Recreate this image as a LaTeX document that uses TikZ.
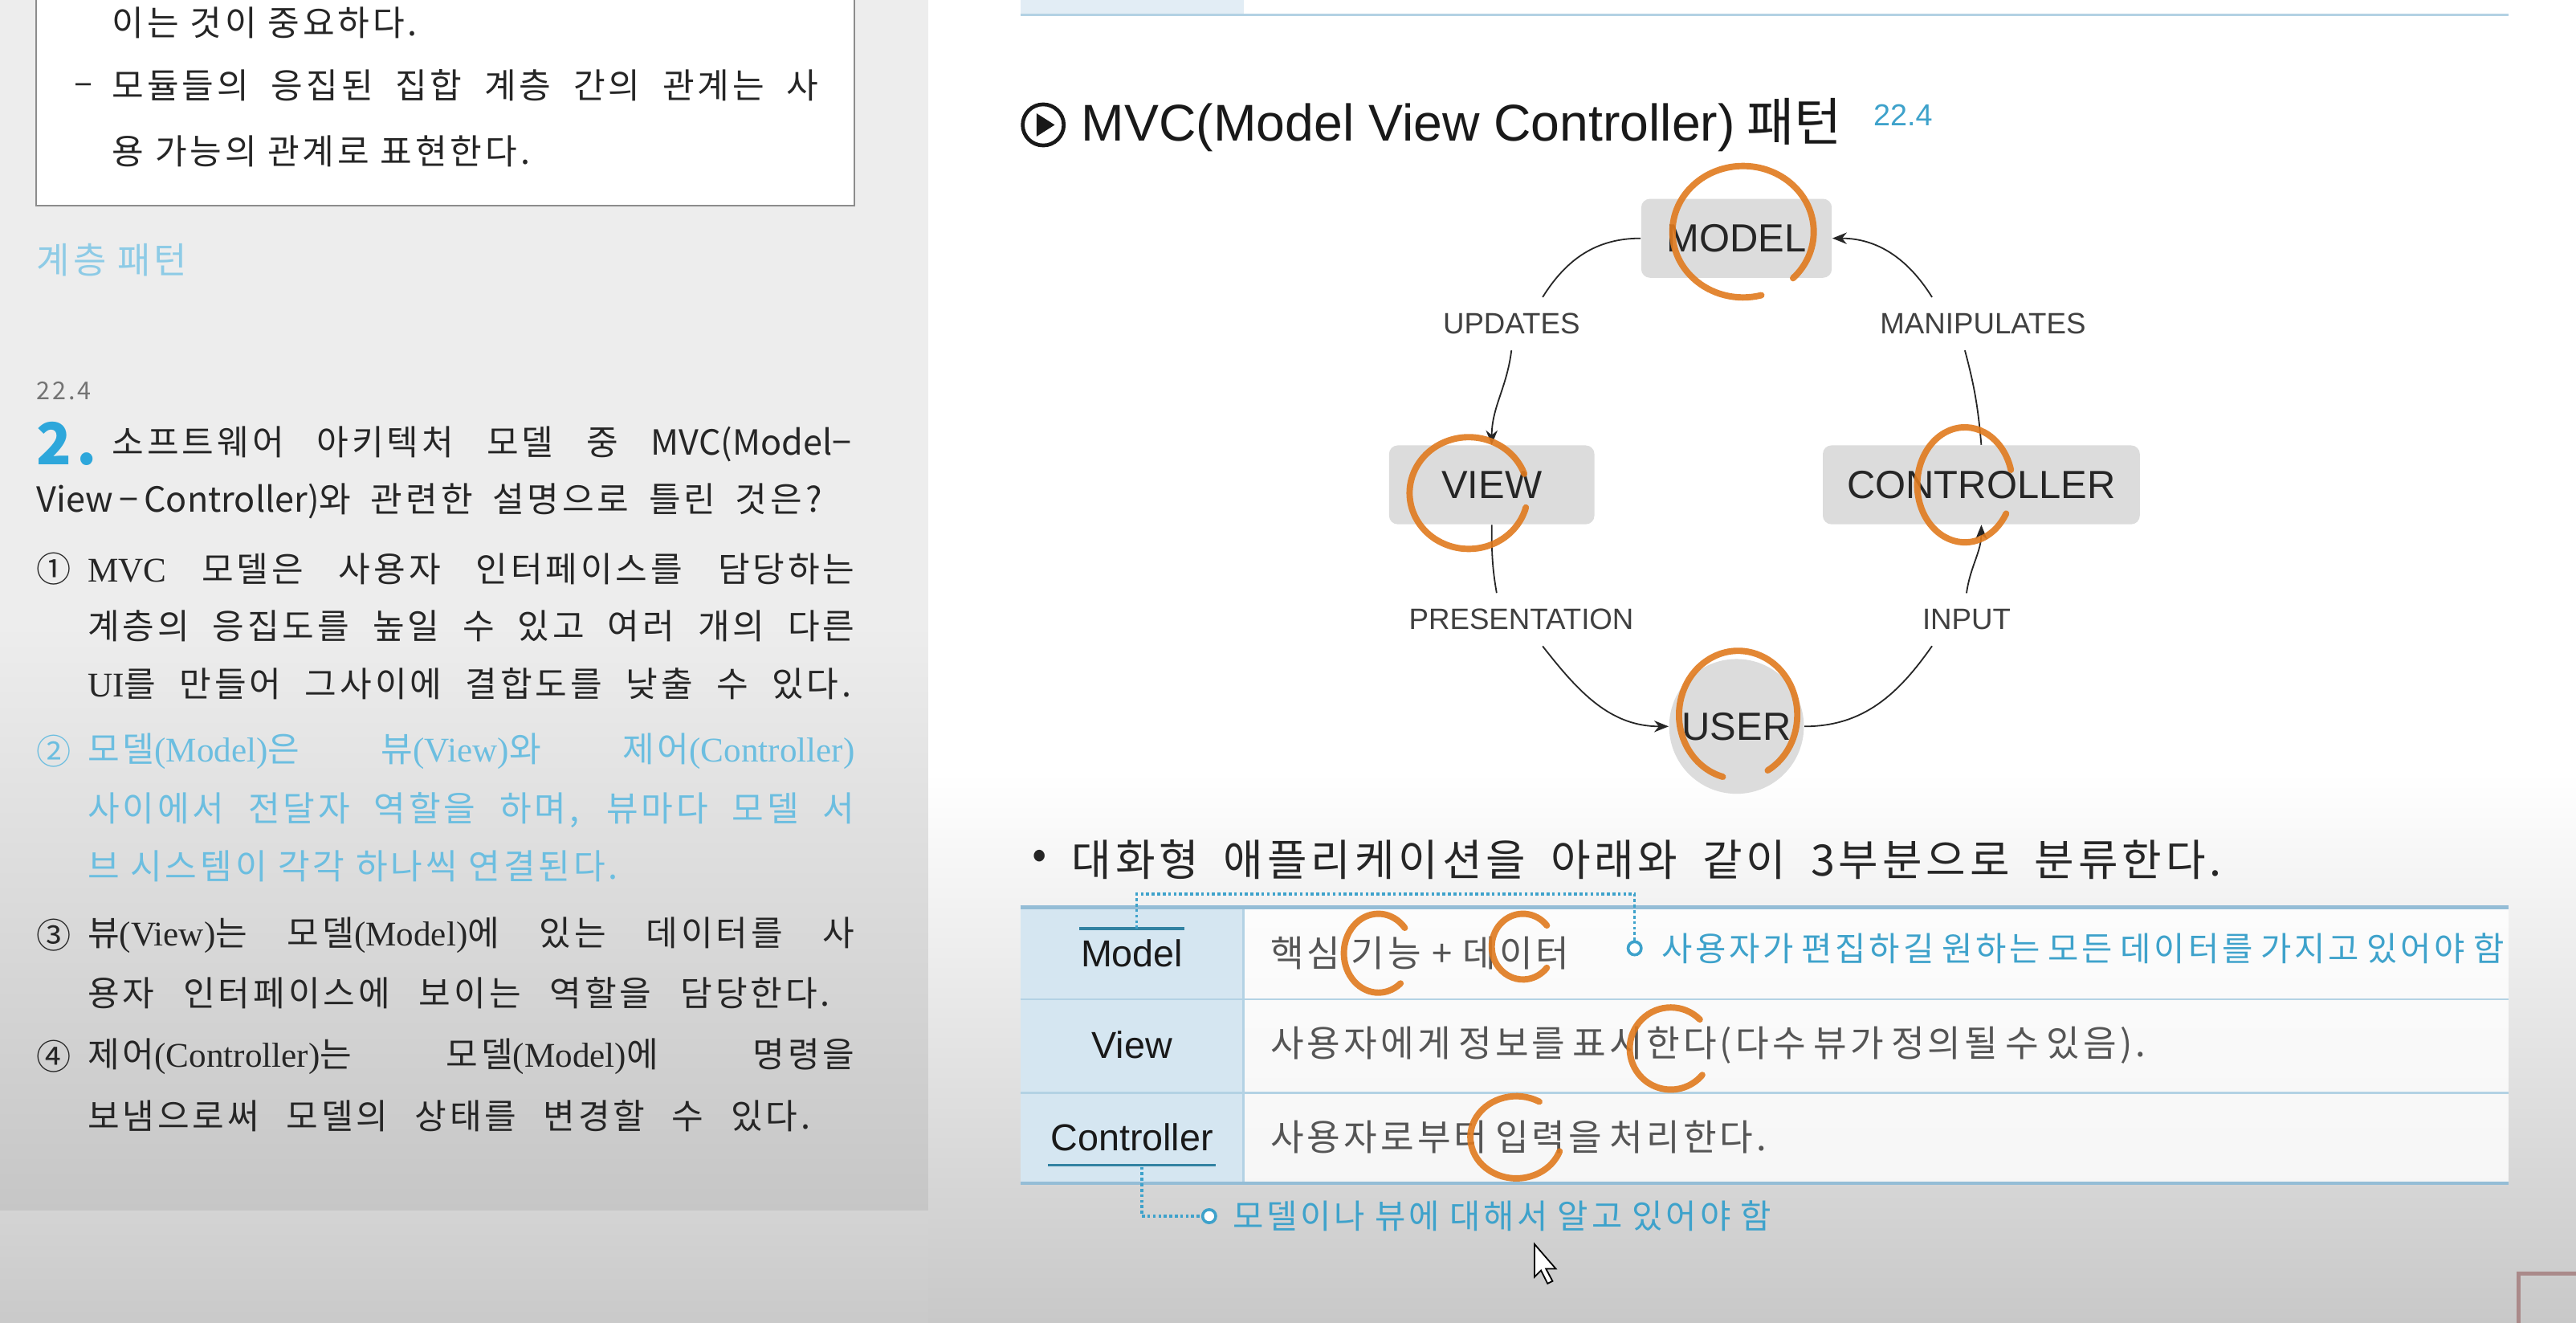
\documentclass[tikz,border=0pt]{standalone}
\usepackage{fontspec}
\setmainfont{Noto Sans CJK KR}[LetterSpace=9]
\newfontfamily\plainkr{Noto Sans CJK KR}
\newfontfamily\latserif{Liberation Serif}
\newfontfamily\hv{Liberation Sans}
\usetikzlibrary{positioning, arrows.meta, calc}

\definecolor{panelgray}{HTML}{EDEDED}
\definecolor{panelbottom}{HTML}{C6C6C6}
\definecolor{vignette}{HTML}{C8C8C8}
\definecolor{hintblue}{HTML}{8DCBE6}
\definecolor{qblue}{HTML}{2EA7DB}
\definecolor{ansblue}{HTML}{6CBEE0}
\definecolor{noteblue}{HTML}{3EA2CB}
\definecolor{cellblue}{HTML}{D5E6F1}
\definecolor{rulelight}{HTML}{B3D2E4}
\definecolor{ruledark}{HTML}{94BDD6}
\definecolor{boxgray}{HTML}{DCDCDC}
\definecolor{penorange}{HTML}{E07A1E}
\definecolor{bodygray}{HTML}{555555}
\definecolor{framerose}{HTML}{AA8A8A}

\newcommand{\jline}[2]{\makebox[#1][s]{#2}}

\begin{document}
\begin{tikzpicture}[
    x=0.02cm, y=-0.02cm,
    >={Stealth[length=5pt, width=4pt]},
    lefttxt/.style={anchor=west, inner sep=0pt, text=black!85,
        font=\fontsize{12}{14}\selectfont},
    block/.style={rectangle, rounded corners=3pt, fill=boxgray, inner sep=0pt,
        minimum height=0.96cm, text=black!85,
        font=\hv\fontsize{13.6}{16}\selectfont},
    userdot/.style={circle, fill=boxgray, inner sep=0pt, minimum size=1.64cm,
        text=black!85, font=\hv\fontsize{13.6}{16}\selectfont},
    flowlabel/.style={inner xsep=0pt, inner ysep=0.19cm, text=black!75,
        font=\hv\fontsize{10.2}{12}\selectfont},
    flow/.style={black!85, line width=0.5pt},
    rowhead/.style={inner sep=0pt, text=black!90,
        font=\hv\fontsize{13}{15}\selectfont},
    bodytxt/.style={anchor=west, inner sep=0pt, text=bodygray,
        font=\fontsize{12.6}{14}\selectfont},
    notetxt/.style={anchor=west, inner sep=0pt, text=noteblue,
        font=\fontsize{11.6}{13}\selectfont},
    notedot/.style={circle, draw=noteblue, fill=white, line width=1pt,
        minimum size=0.16cm, inner sep=0pt},
    note/.style={noteblue, line width=0.9pt, dash pattern=on 1pt off 0.9pt},
    ink/.style={penorange, line width=2.2pt, line cap=round, opacity=0.9},
]
\useasboundingbox (0,0) rectangle (1568,805);

% page backgrounds
\fill[white] (0,0) rectangle (1568,805);
\shade[top color=white, bottom color=vignette] (565,470) rectangle (1568,805);
\fill[panelgray] (0,0) rectangle (565,380);
\shade[top color=panelgray, bottom color=panelbottom] (0,380) rectangle (565,737);
\shade[top color=black!17, bottom color=black!21] (0,737) rectangle (565,805);
\draw[framerose, line width=1.6pt] (1568,775) -- (1533,775) -- (1533,810);

% left column: end of the summary box
\draw[draw=black!45, fill=white, line width=0.6pt] (22,-10) rectangle (520,125);
\node[lefttxt] (box1) at (68,14) {이는 것이 중요하다.};
\node[lefttxt] (boxdash) at (45,54) {–};
\node[lefttxt] (box2) at (68,52) {\jline{8.6cm}{모듈들의 응집된 집합 계층 간의 관계는 사}};
\node[lefttxt] (box3) at (68,92) {용 가능의 관계로 표현한다.};

\node[lefttxt, text=hintblue, font=\fontsize{12.5}{15}\selectfont] (hint) at (22,158) {계층 패턴};

% left column: question
\node[lefttxt, text=black!55, font=\fontsize{8.5}{10}\selectfont] (qref) at (22,238) {22.4};
\node[lefttxt, text=qblue, font=\bfseries\fontsize{20}{22}\selectfont] (qnum) at (22,270) {2.};
\node[lefttxt] (q1) at (68,270) {\jline{9.0cm}{소프트웨어 아키텍처 모델 중 {\plainkr MVC(Model−}}};
\node[lefttxt] (q2) at (22,305) {\jline{9.56cm}{{\plainkr View\,−\,Controller)}와 관련한 설명으로 틀린 것은?}};

\node[lefttxt] (n1) at (22,346) {①};
\node[lefttxt] (a1) at (53,346) {\jline{9.34cm}{{\latserif MVC} 모델은 사용자 인터페이스를 담당하는}};
\node[lefttxt] (a1b) at (53,381) {\jline{9.34cm}{계층의 응집도를 높일 수 있고 여러 개의 다른}};
\node[lefttxt] (a1c) at (53,416) {\jline{9.3cm}{{\latserif UI}를 만들어 그사이에 결합도를 낮출 수 있다.}};

\node[lefttxt, text=ansblue] (n2) at (22,457) {②};
\node[lefttxt, text=ansblue] (a2) at (53,457) {\jline{9.34cm}{모델{\latserif (Model)}은 뷰{\latserif (View)}와 제어{\latserif (Controller)}}};
\node[lefttxt, text=ansblue] (a2b) at (53,493) {\jline{9.34cm}{사이에서 전달자 역할을 하며, 뷰마다 모델 서}};
\node[lefttxt, text=ansblue] (a2c) at (53,527) {브 시스템이 각각 하나씩 연결된다.};

\node[lefttxt] (n3) at (22,569) {③};
\node[lefttxt] (a3) at (53,569) {\jline{9.34cm}{뷰{\latserif (View)}는 모델{\latserif (Model)}에 있는 데이터를 사}};
\node[lefttxt] (a3b) at (53,604) {\jline{9.04cm}{용자 인터페이스에 보이는 역할을 담당한다.}};

\node[lefttxt] (n4) at (22,643) {④};
\node[lefttxt] (a4) at (53,643) {\jline{9.34cm}{제어{\latserif (Controller)}는 모델{\latserif (Model)}에 명령을}};
\node[lefttxt] (a4b) at (53,679) {\jline{8.8cm}{보냄으로써 모델의 상태를 변경할 수 있다.}};

% right column: tail of the previous table
\fill[cellblue!70] (621,-5) rectangle (757,9);
\draw[rulelight, line width=1pt] (621,9) -- (1527,9);

% title
\node[circle, draw=black!90, line width=1.3pt, minimum size=0.5cm, inner sep=0pt] (playicon) at (635,76) {};
\fill[black!90] ($(playicon)+(-4,-7)$) -- ($(playicon)+(7,0)$) -- ($(playicon)+(-4,7)$) -- cycle;
\node[anchor=west, inner sep=0pt, text=black!90, font=\plainkr\fontsize{17.9}{20}\selectfont] (title) at (658,76)
    {{\hv MVC(Model View Controller)} 패턴};
\node[anchor=west, inner sep=0pt, text=noteblue, font=\hv\fontsize{10.5}{12}\selectfont] (titleref) at (1140,70) {22.4};

% MVC cycle
\node[block, minimum width=2.32cm] (model) at (1057,145) {MODEL};
\node[block, minimum width=2.5cm] (view) at (908,295) {VIEW};
\node[block, minimum width=3.86cm] (ctrl) at (1206,295) {CONTROLLER};
\node[userdot] (user) at (1057,442) {USER};

\node[flowlabel] (updates) at (920,197) {UPDATES};
\node[flowlabel] (manip) at (1207,197) {MANIPULATES};
\node[flowlabel] (present) at (926,377) {PRESENTATION};
\node[flowlabel] (input) at (1197,377) {INPUT};

\draw[flow] (model.west) to[out=180, in=58] ([xshift=0.38cm]updates.north);
\draw[flow, ->] (updates.south) to[out=-97, in=90] (view.north);
\draw[flow] (view.south) to[out=-90, in=100] ([xshift=-0.3cm]present.north);
\draw[flow, ->] ([xshift=0.26cm]present.south) to[out=-52, in=180] (user.west);
\draw[flow] (user.east) to[out=0, in=-125] ([xshift=-0.42cm]input.south);
\draw[flow, ->] (input.north) to[out=82, in=-90] (ctrl.south);
\draw[flow] (ctrl.north) to[out=95, in=-75] ([xshift=-0.22cm]manip.south);
\draw[flow, ->] ([xshift=-0.62cm]manip.north) to[out=122, in=0] (model.east);

% intro line
\node[anchor=west, inner sep=0pt, text=black!85, font=\fontsize{15}{17}\selectfont] (bullet) at (628,523) {•};
\node[anchor=west, inner sep=0pt, text=black!85, font=\fontsize{15}{17}\selectfont] (intro) at (652,523)
    {\jline{14.0cm}{대화형 애플리케이션을 아래와 같이 3부분으로 분류한다.}};

% table
\fill[cellblue] (621,552) rectangle (757,720);
\fill[white, opacity=0.8] (757,552) rectangle (1527,720);
\draw[rulelight, line width=0.8pt] (621,608) -- (1527,608);
\draw[rulelight, line width=0.8pt] (621,665) -- (1527,665);
\draw[rulelight, line width=0.8pt] (757,552) -- (757,720);
\draw[ruledark, line width=1.2pt] (621,552) -- (1527,552);
\draw[ruledark, line width=1.2pt] (621,720) -- (1527,720);

\node[rowhead] (tmodel) at (689,580) {Model};
\node[rowhead] (tview) at (689,636) {View};
\node[rowhead] (tctrl) at (689,692) {Controller};
\draw[noteblue!80!black, line width=1pt] (657,565) -- (721,565);
\draw[noteblue!80!black, line width=1pt] (638,709) -- (740,709);

\node[bodytxt] (bmodel) at (773,580) {\jline{3.64cm}{핵심 기능 + 데이터}};
\node[bodytxt] (bview) at (773,636) {\jline{10.48cm}{사용자에게 정보를 표시한다(다수 뷰가 정의될 수 있음).}};
\node[bodytxt] (bctrl) at (773,692) {\jline{5.84cm}{사용자로부터 입력을 처리한다.}};

% callouts
\coordinate (mbar) at (692,565);
\coordinate (laneA) at (692,544);
\node[notedot] (dotA) at (995,577) {};
\node[notetxt] (noteA) at (1011,577) {\jline{10.26cm}{사용자가 편집하길 원하는 모든 데이터를 가지고 있어야 함}};
\draw[note] (mbar) -- (laneA) -| (dotA.north);

\coordinate (cbar) at (695,710);
\node[notedot] (dotB) at (736,740) {};
\node[notetxt] (noteB) at (750,740) {\jline{6.56cm}{모델이나 뷰에 대해서 알고 있어야 함}};
\draw[note] (cbar) |- (dotB.west);

% pen marks
\draw[ink] ($(1061,141)+(-45:0.86cm and 0.8cm)$) arc[start angle=-45, end angle=285, x radius=0.86cm, y radius=0.8cm];
\draw[ink] ($(894,300)+(20:0.72cm and 0.68cm)$) arc[start angle=20, end angle=345, x radius=0.72cm, y radius=0.68cm];
\draw[ink] ($(1196,295)+(15:0.58cm and 0.7cm)$) arc[start angle=15, end angle=330, x radius=0.58cm, y radius=0.7cm];
\draw[ink] ($(1058,435)+(-60:0.72cm and 0.78cm)$) arc[start angle=-60, end angle=255, x radius=0.72cm, y radius=0.78cm];
\draw[ink] ($(839,580)+(40:0.42cm and 0.48cm)$) arc[start angle=40, end angle=310, x radius=0.42cm, y radius=0.48cm];
\draw[ink] ($(927,576)+(40:0.38cm and 0.4cm)$) arc[start angle=40, end angle=320, x radius=0.38cm, y radius=0.4cm];
\draw[ink] ($(1017,638)+(45:0.5cm and 0.5cm)$) arc[start angle=45, end angle=320, x radius=0.5cm, y radius=0.5cm];
\draw[ink] ($(923,692)+(60:0.56cm and 0.5cm)$) arc[start angle=60, end angle=340, x radius=0.56cm, y radius=0.5cm];

% mouse pointer
\filldraw[fill=white, draw=black, line width=0.5pt] (934,757) -- ++(0,20) -- ++(4,-4) -- ++(4,8)
    -- ++(3,-1.5) -- ++(-4,-7.5) -- ++(6,0) -- cycle;

\end{tikzpicture}
\end{document}
